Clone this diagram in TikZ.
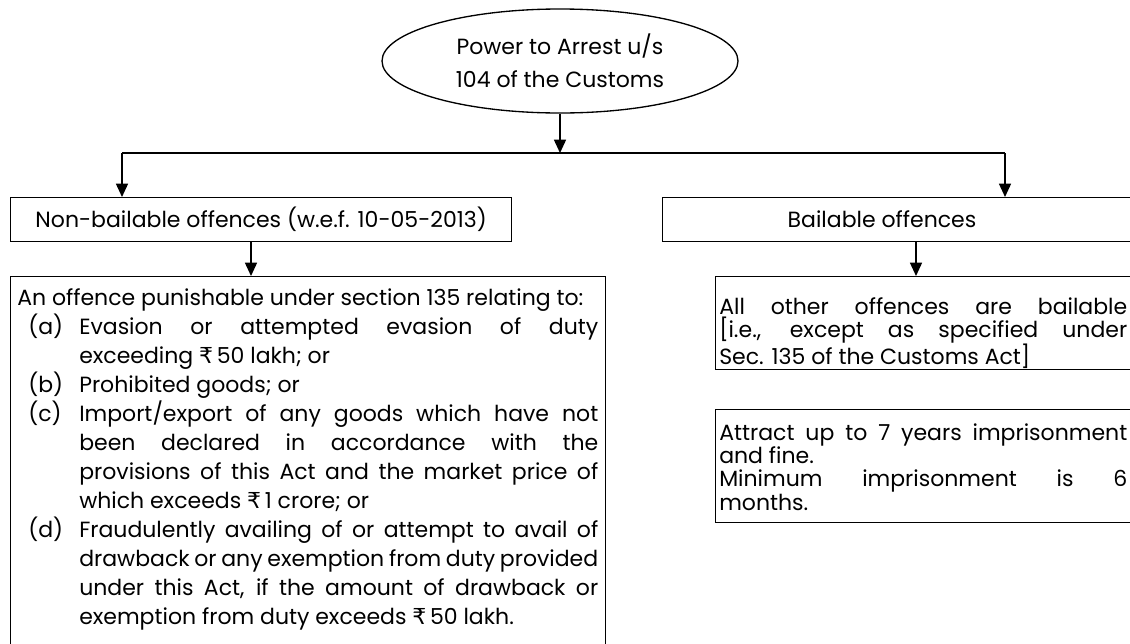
\documentclass[tikz,border=0pt]{standalone}
\usepackage{fontspec}
\setmainfont{Poppins}
\newfontfamily\rupeefont{DejaVu Sans}
\newcommand{\Rs}{{\rupeefont ₹}}
\usetikzlibrary{shapes.geometric,arrows.meta}
\newcommand{\litem}[2]{\par\hangindent=46.5pt\hangafter=1\noindent\hspace*{8.25pt}\makebox[38.25pt][l]{#1}#2\par}
\hyphenpenalty=10000
\exhyphenpenalty=10000
\begin{document}
\begin{tikzpicture}[x=0.75pt,y=-0.75pt,
  box/.style={draw,line width=1pt,inner sep=0pt},
  arr/.style={line width=1.1pt,-{Triangle[length=10pt,width=9pt]}},
  txt/.style={font=\fontsize{16.5pt}{21pt}\selectfont}]
\useasboundingbox (0,0) rectangle (1130,643);
\clip (0,0) rectangle (1130,643);
% root
\node[ellipse,draw,line width=1pt,minimum width=356*0.75pt,minimum height=104*0.75pt,align=center,inner sep=0pt,font=\fontsize{16.5pt}{25pt}\selectfont] (root) at (560,61)
  {Power to Arrest u/s\\104 of the Customs};
\coordinate (j) at (560,153);
\coordinate (jl) at (122,153);
\coordinate (jr) at (1005,153);
% level 2
\node[box,minimum width=501*0.75pt,minimum height=44*0.75pt,anchor=north west] (nb) at (10,197) {};
\node[txt] at (nb.center) (nbt) {Non-bailable offences (w.e.f. 10-05-2013)};
\node[box,minimum width=500*0.75pt,minimum height=44*0.75pt,anchor=north west] (bl) at (662,197) {};
\node[txt] (blt) at (882,219) {Bailable offences};
% left lower
\node[box,minimum width=595*0.75pt,minimum height=400*0.75pt,anchor=north west] (lb) at (10,276) {};
\node[anchor=base west,inner sep=0pt] (lbt) at (17,305) {\begin{minipage}[t]{435.75pt}\fontsize{16.5pt}{21.75pt}\selectfont\parindent=0pt
An offence punishable under section 135 relating to:\par
\litem{(a)}{Evasion or attempted evasion of duty\linebreak{}exceeding \Rs\,50 lakh; or}
\litem{(b)}{Prohibited goods; or}
\litem{(c)}{Import/export of any goods which have not\linebreak{}been declared in accordance with the\linebreak{}provisions of this Act and the market price of\linebreak{}which exceeds \Rs\,1 crore; or}
\litem{(d)}{Fraudulently availing of or attempt to avail of\linebreak{}drawback or any exemption from duty provided\linebreak{}under this Act, if the amount of drawback or\linebreak{}exemption from duty exceeds \Rs\,50 lakh.}
\end{minipage}};
% right lower
\node[box,minimum width=450*0.75pt,minimum height=93*0.75pt,anchor=north west] (rb1) at (715,276) {};
\node[anchor=base west,inner sep=0pt] (rb1t) at (719,314) {\begin{minipage}[t]{306pt}\fontsize{16.5pt}{17.5pt}\selectfont\parindent=0pt
All other offences are bailable\linebreak{}[i.e., except as specified under\linebreak{}Sec. 135 of the Customs Act]
\end{minipage}};
\node[box,minimum width=450*0.75pt,minimum height=113*0.75pt,anchor=north west] (rb2) at (715,409) {};
\node[anchor=base west,inner sep=0pt] (rb2t) at (719,440) {\begin{minipage}[t]{306pt}\fontsize{16.5pt}{17.5pt}\selectfont\parindent=0pt
Attract up to 7 years imprisonment\linebreak{}and fine.\par
Minimum imprisonment is 6\linebreak{}months.
\end{minipage}};
% connectors
\coordinate (a1s) at (251,241);
\coordinate (a1e) at (251,276);
\coordinate (a2s) at (916,241);
\coordinate (a2e) at (916,276);
\coordinate (nbtop) at (122,197);
\coordinate (bltop) at (1005,197);
\draw[arr] (root.south) -- (j);
\draw[line width=1.1pt] (jl) -- (jr);
\draw[arr] (jl) -- (nbtop);
\draw[arr] (jr) -- (bltop);
\draw[arr] (a1s) -- (a1e);
\draw[arr] (a2s) -- (a2e);
\end{tikzpicture}
\end{document}
